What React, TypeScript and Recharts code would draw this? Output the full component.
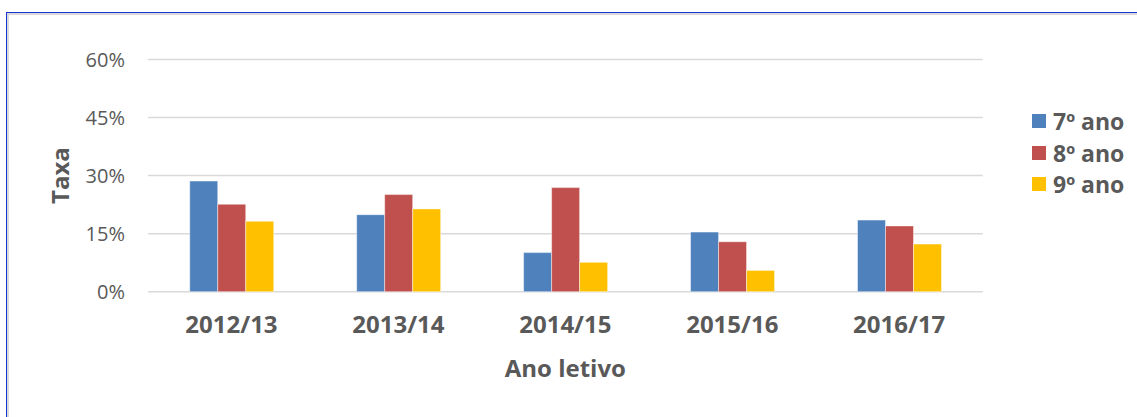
import { BarChart, Bar, XAxis, YAxis, CartesianGrid, Label } from 'recharts';

// school years on the category axis
const YEARS = ['2012/13', '2013/14', '2014/15', '2015/16', '2016/17'];

// rate (%) per grade
const GRADE_7 = [28.6, 19.9, 10.1, 15.4, 18.5];
const GRADE_8 = [22.6, 25.1, 26.9, 12.9, 17.0];
const GRADE_9 = [18.2, 21.4, 7.6, 5.5, 12.3];

const Y_TICKS = [0, 15, 30, 45, 60];

const SERIES = [
  { key: 'g7', name: '7º ano', color: '#4F81BD' },
  { key: 'g8', name: '8º ano', color: '#C0504D' },
  { key: 'g9', name: '9º ano', color: '#FFC000' },
];

const FONT = '"Open Sans", sans-serif';
const TEXT_GRAY = '#595959';

const data = YEARS.map((year, i) => ({
  year,
  g7: GRADE_7[i],
  g8: GRADE_8[i],
  g9: GRADE_9[i],
}));

export default function App() {
  return (
    <div
      style={{
        position: 'absolute',
        left: 0,
        top: 0,
        width: 1137,
        height: 417,
        overflow: 'hidden',
        background: '#fff',
      }}
    >
      {/* frame: blue edge with a light gray inner line */}
      <div
        style={{
          position: 'absolute',
          left: 6,
          top: 12,
          width: 1200,
          height: 500,
          borderTop: '1px solid #1437d6',
          borderLeft: '1px solid #1437d6',
          boxShadow: 'inset 2px 2px 0 #d9d9d9',
        }}
      />
      <div style={{ position: 'absolute', left: 0, top: 0 }}>
        <BarChart
          width={1137}
          height={417}
          data={data}
          margin={{ top: 59.5, right: 154.3, left: 0, bottom: 95.3 }}
          barCategoryGap="25%"
          barGap={0}
        >
          <CartesianGrid vertical={false} stroke="#d9d9d9" strokeWidth={1.5} />
          <XAxis
            dataKey="year"
            height={30}
            axisLine={false}
            tickLine={false}
            tickSize={0}
            tickMargin={24.5}
            tick={{ fill: TEXT_GRAY, fontSize: 24, fontWeight: 700, fontFamily: FONT }}
          >
            <Label
              content={({ viewBox }: any) => (
                <text
                  x={viewBox.x + viewBox.width / 2}
                  y={viewBox.y + 85}
                  textAnchor="middle"
                  fill={TEXT_GRAY}
                  fontSize={24}
                  fontWeight={700}
                  fontFamily={FONT}
                >
                  Ano letivo
                </text>
              )}
            />
          </XAxis>
          <YAxis
            width={148}
            domain={[0, 60]}
            ticks={Y_TICKS}
            axisLine={false}
            tickLine={false}
            tickSize={0}
            tickMargin={23}
            tickFormatter={(v: number) => `${v}%`}
            tick={{ fill: TEXT_GRAY, fontSize: 20, fontFamily: FONT }}
          >
            <Label
              content={({ viewBox }: any) => {
                const x = viewBox.x + 69;
                const y = viewBox.y + viewBox.height / 2;
                return (
                  <text
                    x={x}
                    y={y}
                    transform={`rotate(-90, ${x}, ${y})`}
                    textAnchor="middle"
                    fill={TEXT_GRAY}
                    fontSize={24}
                    fontWeight={700}
                    fontFamily={FONT}
                  >
                    Taxa
                  </text>
                );
              }}
            />
          </YAxis>
          {SERIES.map((s) => (
            <Bar
              key={s.key}
              dataKey={s.key}
              name={s.name}
              fill={s.color}
              stroke="#ffffff"
              strokeOpacity={0.45}
              strokeWidth={1}
              isAnimationActive={false}
            />
          ))}
        </BarChart>
      </div>

      {/* legend */}
      <div style={{ position: 'absolute', left: 1032, top: 105.5 }}>
        {SERIES.map((s) => (
          <div
            key={s.key}
            style={{
              display: 'flex',
              alignItems: 'center',
              height: 31.5,
              fontFamily: FONT,
              fontSize: 23,
              fontWeight: 700,
              color: TEXT_GRAY,
              whiteSpace: 'nowrap',
            }}
          >
            <span
              style={{
                display: 'inline-block',
                width: 14,
                height: 14,
                background: s.color,
                marginRight: 7,
              }}
            />
            {s.name}
          </div>
        ))}
      </div>
    </div>
  );
}
